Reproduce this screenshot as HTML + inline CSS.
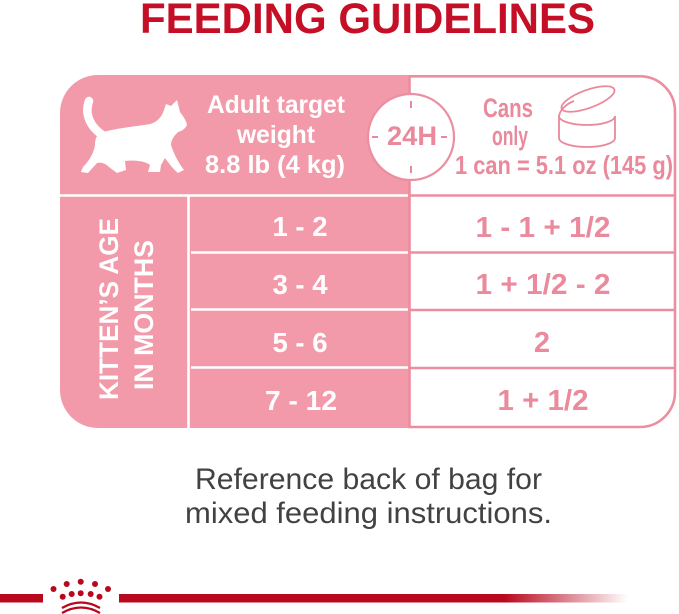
<!DOCTYPE html>
<html>
<head>
<meta charset="utf-8">
<style>
html,body{margin:0;padding:0;background:#fff;}
body{width:679px;height:614px;overflow:hidden;}
svg{display:block;}
text{font-family:"Liberation Sans",sans-serif;}
</style>
</head>
<body>
<svg width="679" height="614" viewBox="0 0 679 614" xmlns="http://www.w3.org/2000/svg">
  <defs>
    <linearGradient id="fade" x1="0" y1="0" x2="1" y2="0">
      <stop offset="0" stop-color="#b8081e" stop-opacity="1"/>
      <stop offset="1" stop-color="#b8081e" stop-opacity="0"/>
    </linearGradient>
  </defs>

  <!-- Title -->
  <text x="140" y="33" font-size="43" font-weight="bold" fill="#c40f26" textLength="455" lengthAdjust="spacingAndGlyphs">FEEDING GUIDELINES</text>

  <!-- Pink left block -->
  <path d="M98,75 L411,75 L411,428 L98,428 A38,38 0 0 1 60,390 L60,113 A38,38 0 0 1 98,75 Z" fill="#f29aa9"/>

  <!-- White right panel with pink border -->
  <path d="M409.5,76.3 L640,76.3 A35,35 0 0 1 675,111.3 L675,392 A35,35 0 0 1 640,427 L409.5,427 Z" fill="#fff" stroke="#ec8e9f" stroke-width="2.6"/>

  <!-- right row dividers -->
  <g stroke="#ec8e9f" stroke-width="2.6">
    <line x1="409" y1="195.5" x2="675" y2="195.5"/>
    <line x1="409" y1="252.5" x2="675" y2="252.5"/>
    <line x1="409" y1="310" x2="675" y2="310"/>
    <line x1="409" y1="368" x2="675" y2="368"/>
  </g>

  <!-- left white dividers -->
  <g stroke="#fff" stroke-width="2.6">
    <line x1="60" y1="195.5" x2="408" y2="195.5"/>
    <line x1="188.5" y1="195" x2="188.5" y2="428"/>
    <line x1="191" y1="252.5" x2="408" y2="252.5"/>
    <line x1="191" y1="309.5" x2="408" y2="309.5"/>
    <line x1="191" y1="367.5" x2="408" y2="367.5"/>
  </g>

  <!-- Cat silhouette -->
  <path d="M89,101 C84,115 91,128 104,136" fill="none" stroke="#fff" stroke-width="8.5" stroke-linecap="round"/>
  <path fill="#fff" d="M100,133
    C115,128 140,126 150,124
    C158,122 162,116 164,110
    L166,104 L171,106 L177,100 L180,112
    C183,116 186,120 187,125
    C185,129 182,131 178,132
    C174,136 171,140 171,145
    C174,155 180,165 184,170
    L178,173
    C172,168 168,162 165,158
    L161,165 L160,172 L148,172 L150,165
    C145,161 135,160 125,161
    L126,170 L117,173 L109,167
    C105,163 100,162 97,163
    L88,173 L81,172 L83,167
    C90,160 94,152 95,145
    C95,140 96,136 100,133 Z"/>

  <!-- Adult target text -->
  <g fill="#fff" font-weight="bold" font-size="25" text-anchor="middle">
    <text x="276" y="113" textLength="138" lengthAdjust="spacingAndGlyphs">Adult target</text>
    <text x="276" y="143" textLength="78" lengthAdjust="spacingAndGlyphs">weight</text>
    <text x="275" y="173" textLength="140" lengthAdjust="spacingAndGlyphs">8.8 lb (4 kg)</text>
  </g>

  <!-- 24H circle -->
  <circle cx="411" cy="137" r="43" fill="#fff" stroke="#ec8e9f" stroke-width="2.2"/>
  <g stroke="#e9899b" stroke-width="2">
    <line x1="411" y1="101" x2="411" y2="108"/>
    <line x1="411" y1="166" x2="411" y2="173"/>
    <line x1="372" y1="137" x2="378" y2="137"/>
    <line x1="441" y1="137" x2="447" y2="137"/>
  </g>
  <text x="412" y="145" font-size="27" font-weight="bold" fill="#e9899b" text-anchor="middle" textLength="50" lengthAdjust="spacingAndGlyphs">24H</text>

  <!-- Cans only -->
  <g fill="#e9899b" font-weight="bold" text-anchor="middle">
    <text x="508" y="117" font-size="27" textLength="50" lengthAdjust="spacingAndGlyphs">Cans</text>
    <text x="510" y="145" font-size="27" textLength="36" lengthAdjust="spacingAndGlyphs">only</text>
    <text x="564" y="174" font-size="26" textLength="218" lengthAdjust="spacingAndGlyphs">1 can = 5.1 oz (145 g)</text>
  </g>

  <!-- Can icon -->
  <g fill="none" stroke="#e9899b" stroke-width="1.8">
    <path d="M559,116 L559,138 A28,9 0 0 0 615,138 L615,116"/>
    <path d="M559,116 A28,9 0 0 0 615,116"/>
    <path d="M559,116 C560,110 566,104 574,101"/>
    <ellipse cx="588" cy="99" rx="28" ry="9" transform="rotate(-20 588 99)"/>
  </g>

  <!-- Vertical label -->
  <g fill="#fff" font-weight="bold" text-anchor="middle">
    <text x="0" y="0" font-size="27" transform="translate(118,309) rotate(-90)" textLength="182" lengthAdjust="spacingAndGlyphs">KITTEN’S AGE</text>
    <text x="0" y="0" font-size="27" transform="translate(153,315) rotate(-90)" textLength="150" lengthAdjust="spacingAndGlyphs">IN MONTHS</text>
  </g>

  <!-- Left age values -->
  <g fill="#fff" font-weight="bold" font-size="28" text-anchor="middle">
    <text x="300" y="236" textLength="55" lengthAdjust="spacingAndGlyphs">1 - 2</text>
    <text x="300" y="294" textLength="55" lengthAdjust="spacingAndGlyphs">3 - 4</text>
    <text x="300" y="352" textLength="55" lengthAdjust="spacingAndGlyphs">5 - 6</text>
    <text x="301" y="410" textLength="72" lengthAdjust="spacingAndGlyphs">7 - 12</text>
  </g>

  <!-- Right values -->
  <g fill="#ea8a9c" font-weight="bold" font-size="29" text-anchor="middle">
    <text x="543" y="237" textLength="135" lengthAdjust="spacingAndGlyphs">1 - 1 + 1/2</text>
    <text x="543" y="294" textLength="135" lengthAdjust="spacingAndGlyphs">1 + 1/2 - 2</text>
    <text x="542" y="352">2</text>
    <text x="543" y="410" textLength="91" lengthAdjust="spacingAndGlyphs">1 + 1/2</text>
  </g>

  <!-- Bottom note -->
  <g fill="#424242" font-size="30">
    <text x="195" y="489" textLength="347" lengthAdjust="spacingAndGlyphs">Reference back of bag for</text>
    <text x="185" y="523" textLength="367" lengthAdjust="spacingAndGlyphs">mixed feeding instructions.</text>
  </g>

  <!-- Footer bar -->
  <rect x="0" y="594" width="43" height="8.5" fill="#b8081e"/>
  <rect x="119" y="594" width="386" height="8.5" fill="#b8081e"/>
  <rect x="504" y="594" width="124" height="8.5" fill="url(#fade)"/>

  <!-- Crown -->
  <g fill="#b8081e">
    <circle cx="53.5" cy="589" r="3"/>
    <circle cx="66.7" cy="584" r="3"/>
    <circle cx="80.7" cy="581.7" r="3"/>
    <circle cx="95" cy="584" r="3"/>
    <circle cx="108" cy="589" r="3"/>
    <circle cx="62.7" cy="596.7" r="3"/>
    <circle cx="71.7" cy="594" r="3"/>
    <circle cx="80.7" cy="593.3" r="3"/>
    <circle cx="90.7" cy="594" r="3"/>
    <circle cx="99.5" cy="596.7" r="3"/>
  </g>
  <g fill="none" stroke="#b8081e" stroke-width="2.2">
    <path d="M62,608 Q81,597 100,608"/>
    <path d="M62,613 Q81,602 100,613"/>
  </g>
</svg>
</body>
</html>
